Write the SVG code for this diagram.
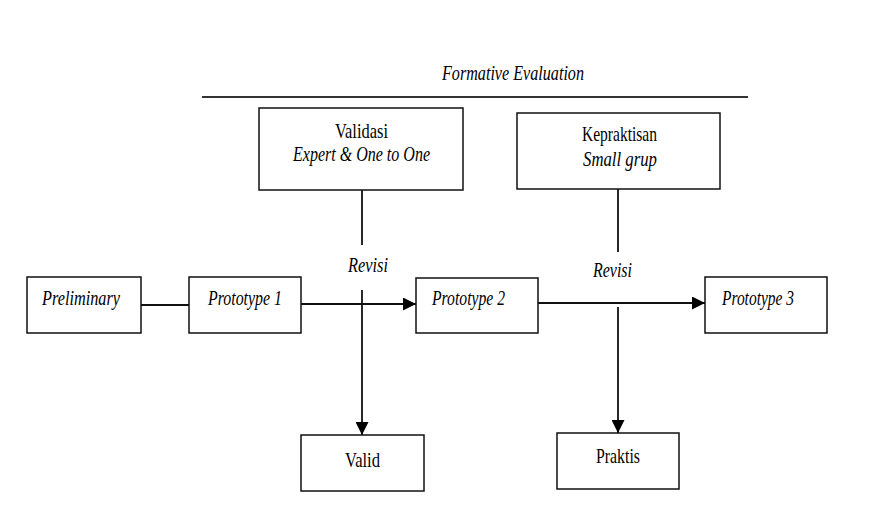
<svg xmlns="http://www.w3.org/2000/svg" width="875" height="506" viewBox="0 0 875 506">
<defs>
<marker id="arr" markerWidth="13" markerHeight="13" refX="13" refY="6.5" orient="auto" markerUnits="userSpaceOnUse">
<path d="M0,0 L13,6.5 L0,13 Z" fill="#000"/>
</marker>
<style>
.box{fill:#fff;stroke:#111;stroke-width:1.5}
.ln{stroke:#111;stroke-width:1.8;fill:none}
.t{font-family:"Liberation Serif","Times New Roman",serif;font-size:21px;fill:#000}
.it{font-style:italic}
</style>
</defs>
<rect x="0" y="0" width="875" height="506" fill="#fff"/>
<g id="title">
<text class="t it" x="442" y="80" textLength="142" lengthAdjust="spacingAndGlyphs">Formative Evaluation</text>
<line x1="202" y1="97" x2="748" y2="97" stroke="#333" stroke-width="2"/>
</g>
<g id="connectors">
<line class="ln" x1="141" y1="305" x2="189" y2="305"/>
<line class="ln" x1="301" y1="304" x2="416" y2="304" marker-end="url(#arr)"/>
<line class="ln" x1="538" y1="303" x2="705" y2="303" marker-end="url(#arr)"/>
<line class="ln" x1="362" y1="190" x2="362" y2="245"/>
<line class="ln" x1="362" y1="290" x2="362" y2="435" marker-end="url(#arr)"/>
<line class="ln" x1="618" y1="189" x2="618" y2="252"/>
<line class="ln" x1="618" y1="307" x2="618" y2="433" marker-end="url(#arr)"/>
<text class="t it" x="348" y="272" textLength="40" lengthAdjust="spacingAndGlyphs">Revisi</text>
<text class="t it" x="593" y="277" textLength="39" lengthAdjust="spacingAndGlyphs">Revisi</text>
</g>
<g id="validasi">
<rect class="box" x="259" y="108" width="204" height="82"/>
<text class="t" x="335" y="138" textLength="53" lengthAdjust="spacingAndGlyphs">Validasi</text>
<text class="t it" x="293" y="161" textLength="137" lengthAdjust="spacingAndGlyphs">Expert &amp; One to One</text>
</g>
<g id="kepraktisan">
<rect class="box" x="517" y="113" width="203" height="76"/>
<text class="t" x="582" y="141" textLength="75" lengthAdjust="spacingAndGlyphs">Kepraktisan</text>
<text class="t it" x="583" y="166" textLength="74" lengthAdjust="spacingAndGlyphs">Small grup</text>
</g>
<g id="preliminary">
<rect class="box" x="27" y="277" width="114" height="56"/>
<text class="t it" x="42" y="305" textLength="78" lengthAdjust="spacingAndGlyphs">Preliminary</text>
</g>
<g id="prototype1">
<rect class="box" x="189" y="277" width="112" height="56"/>
<text class="t it" x="208" y="305" textLength="74" lengthAdjust="spacingAndGlyphs">Prototype 1</text>
</g>
<g id="prototype2">
<rect class="box" x="416" y="278" width="122" height="55"/>
<text class="t it" x="432" y="305" textLength="73" lengthAdjust="spacingAndGlyphs">Prototype 2</text>
</g>
<g id="prototype3">
<rect class="box" x="705" y="277" width="122" height="56"/>
<text class="t it" x="722" y="305" textLength="72" lengthAdjust="spacingAndGlyphs">Prototype 3</text>
</g>
<g id="valid">
<rect class="box" x="301" y="435" width="123" height="56"/>
<text class="t" x="345" y="467" textLength="35" lengthAdjust="spacingAndGlyphs">Valid</text>
</g>
<g id="praktis">
<rect class="box" x="557" y="433" width="122" height="56"/>
<text class="t" x="596" y="463" textLength="44" lengthAdjust="spacingAndGlyphs">Praktis</text>
</g>
</svg>
